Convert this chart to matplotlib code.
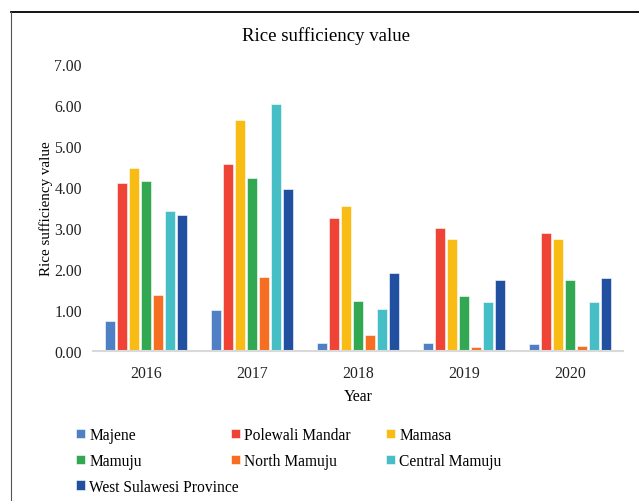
import matplotlib
matplotlib.use('Agg')
import matplotlib.pyplot as plt
from matplotlib.lines import Line2D
import numpy as np

plt.rcParams['font.family'] = ['Liberation Serif', 'DejaVu Serif']

years = ['2016', '2017', '2018', '2019', '2020']
regions = ['Majene', 'Polewali Mandar', 'Mamasa', 'Mamuju', 'North Mamuju',
           'Central Mamuju', 'West Sulawesi Province']
majene = [0.74, 0.99, 0.19, 0.19, 0.16]
polewali = [4.09, 4.55, 3.25, 3.00, 2.88]
mamasa = [4.46, 5.63, 3.54, 2.72, 2.72]
mamuju = [4.14, 4.21, 1.21, 1.33, 1.73]
north_mamuju = [1.37, 1.80, 0.40, 0.09, 0.11]
central_mamuju = [3.41, 6.02, 1.02, 1.19, 1.19]
west_sulawesi = [3.31, 3.96, 1.90, 1.72, 1.77]
series = [majene, polewali, mamasa, mamuju, north_mamuju, central_mamuju, west_sulawesi]
colors = ['#4F7FC4', '#EE4335', '#F9BC15', '#33A853', '#F56E22', '#46BEC6', '#2150A0']

fig = plt.figure(figsize=(6.39, 5.02), dpi=100)
ax = fig.add_axes([93/639, 1-352/502, 530/639, 287/502])

x = np.arange(len(years))
slot = 0.113
bars = []
for i, vals in enumerate(series):
    b = ax.bar(x + (i-3)*slot, vals, width=slot*0.86, color=colors[i],
               edgecolor='white', linewidth=0.4, label=regions[i], zorder=2)
    bars.append(b)

ax.set_xlim(-0.5, 4.5)
ax.set_ylim(0, 7)
ax.set_yticks(np.arange(0, 7.01, 1))
ax.set_yticklabels(['%.2f' % v for v in np.arange(0, 7.01, 1)])
ax.set_xticks(x)
ax.set_xticklabels(years)
for s in ['top', 'right', 'left']:
    ax.spines[s].set_visible(False)
ax.spines['bottom'].set_color('#D9D9D9')
ax.spines['bottom'].set_linewidth(1.5)
ax.tick_params(axis='both', length=0, labelsize=11.3, colors='#222222')
ax.tick_params(axis='y', pad=8)
ax.tick_params(axis='x', pad=10)
ax.set_xlabel('Year', fontsize=11.3, labelpad=5)
ax.set_ylabel('Rice sufficiency value', fontsize=10.8, labelpad=1)
fig.text(326/639, 1-36/502, 'Rice sufficiency value', fontsize=13.5,
         ha='center', va='center')

# legend in three fixed columns, filled row by row like the source
cols = [[0, 3, 6], [1, 4], [2, 5]]
col_x = [76/639, 231/639, 386/639]
for cx, idx in zip(col_x, cols):
    handles = [bars[i] for i in idx]
    labels = [regions[i] for i in idx]
    fig.legend(handles, labels, loc='upper left', bbox_to_anchor=(cx, 1-428/502),
               frameon=False, fontsize=11.2, handlelength=0.55, handleheight=0.55,
               handletextpad=0.3, labelspacing=0.63, borderpad=0, borderaxespad=0)

# frame lines of the cropped chart area
fig.add_artist(Line2D([11/639, 1], [1-13/502, 1-13/502], color='black', lw=1.3))
fig.add_artist(Line2D([11/639, 11/639], [0, 1-13/502], color='#555555', lw=0.8))

fig.savefig('out.png', dpi=100)
